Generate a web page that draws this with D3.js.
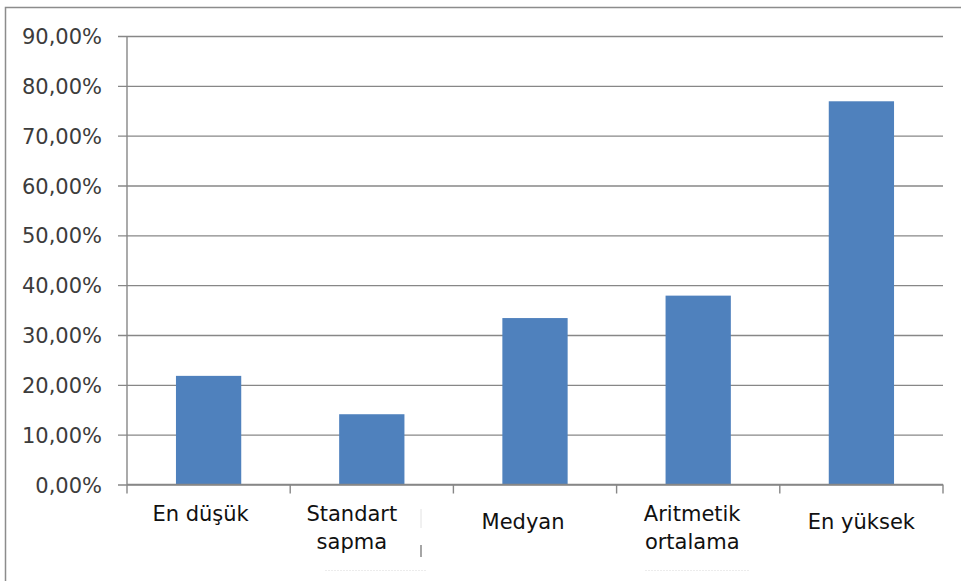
<!DOCTYPE html>
<html>
<head>
<meta charset="utf-8">
<script src="https://cdn.jsdelivr.net/npm/d3@7"></script>
<style>
  html, body { margin: 0; padding: 0; background: #fff; }
  svg { display: block; }
  text { font-family: "DejaVu Sans", Verdana, sans-serif; }
</style>
</head>
<body>
<svg id="chart" width="961" height="581"></svg>
<script>
// Summary statistics (share, as a fraction)
const categories = ["En düşük", "Standart sapma", "Medyan", "Aritmetik ortalama", "En yüksek"];
const categoryLines = [["En düşük"], ["Standart", "sapma"], ["Medyan"], ["Aritmetik", "ortalama"], ["En yüksek"]];
const values = [0.218, 0.141, 0.334, 0.379, 0.769];
const yTicks = [0, 0.1, 0.2, 0.3, 0.4, 0.5, 0.6, 0.7, 0.8, 0.9];

const svg = d3.select("#chart");
const W = 961, H = 581;
const plot = { left: 127, right: 943, top: 36, bottom: 484.5 };

// outer frame (runs off the right and bottom edges)
svg.append("rect")
  .attr("x", 5.5).attr("y", 7.5)
  .attr("width", W).attr("height", H)
  .attr("fill", "#fff").attr("stroke", "#8c8c8c").attr("stroke-width", 1.5);

const x = d3.scaleBand()
  .domain(categories)
  .range([plot.left, plot.right])
  .paddingInner(0.6)
  .paddingOuter(0.3);

const y = d3.scaleLinear()
  .domain([0, 0.9])
  .range([plot.bottom, plot.top]);

const fmt = v => d3.format(".2f")(v * 100).replace(".", ",") + "%";

// horizontal gridlines with left ticks
const yAxis = d3.axisLeft(y)
  .tickValues(yTicks)
  .tickSize(-(plot.right - plot.left))
  .tickSizeOuter(0)
  .tickPadding(16)
  .tickFormat(fmt);

const gy = svg.append("g")
  .attr("transform", `translate(${plot.left},0)`)
  .call(yAxis);
gy.select(".domain").remove();
gy.selectAll(".tick line")
  .attr("stroke", "#878787").attr("stroke-width", 1.4)
  .attr("x1", -9);
gy.selectAll(".tick text")
  .attr("x", -25)
  .attr("fill", "#3c3c3c")
  .attr("font-size", 21)
  .attr("dy", "0.36em");

// bars
svg.append("g").selectAll("rect")
  .data(values)
  .join("rect")
  .attr("x", (d, i) => x(categories[i]))
  .attr("width", x.bandwidth())
  .attr("y", d => y(d))
  .attr("height", d => y(0) - y(d))
  .attr("fill", "#4f81bd");

// vertical axis line
svg.append("line")
  .attr("x1", plot.left).attr("x2", plot.left)
  .attr("y1", y(0.9)).attr("y2", y(0))
  .attr("stroke", "#878787").attr("stroke-width", 1.4);

// horizontal axis line and category separators
svg.append("line")
  .attr("x1", plot.left).attr("x2", plot.right)
  .attr("y1", y(0)).attr("y2", y(0))
  .attr("stroke", "#878787").attr("stroke-width", 1.4);

const step = x.step();
const bounds = d3.range(categories.length + 1).map(i => plot.left + i * step);
svg.append("g").selectAll("line")
  .data(bounds)
  .join("line")
  .attr("x1", d => d).attr("x2", d => d)
  .attr("y1", y(0)).attr("y2", y(0) + 9)
  .attr("stroke", "#878787").attr("stroke-width", 1.4);

// category labels (hand-placed text boxes, slightly off-centre)
const labelBaseline = { "En düşük": 521 };
const labelShift = { "En düşük": -8, "Standart sapma": -20, "Medyan": -12, "Aritmetik ortalama": -6, "En yüksek": 0 };
const labels = svg.append("g").selectAll("text")
  .data(categories)
  .join("text")
  .attr("text-anchor", "middle")
  .attr("font-size", 21)
  .attr("fill", "#111")
  .attr("transform", (d, i) => {
    const lines = categoryLines[i];
    const base = lines.length > 1 ? 521 : (labelBaseline[d] || 529);
    return `translate(${x(d) + x.bandwidth() / 2 + (labelShift[d] || 0)},${base})`;
  });
labels.selectAll("tspan")
  .data((d, i) => categoryLines[i])
  .join("tspan")
  .attr("x", 0)
  .attr("y", (d, j) => j * 28)
  .text(d => d);

// leftover edges of pasted label boxes
svg.append("line").attr("x1", 421).attr("x2", 421).attr("y1", 509).attr("y2", 528)
  .attr("stroke", "#e2e2e2").attr("stroke-width", 1);
svg.append("line").attr("x1", 421).attr("x2", 421).attr("y1", 545).attr("y2", 557)
  .attr("stroke", "#6a6a6a").attr("stroke-width", 1.2);
svg.append("line").attr("x1", 325).attr("x2", 427).attr("y1", 570.5).attr("y2", 570.5)
  .attr("stroke", "#ececec").attr("stroke-width", 1).attr("stroke-dasharray", "2,1");
svg.append("line").attr("x1", 645).attr("x2", 750).attr("y1", 570.5).attr("y2", 570.5)
  .attr("stroke", "#ececec").attr("stroke-width", 1).attr("stroke-dasharray", "2,1");
</script>
</body>
</html>
